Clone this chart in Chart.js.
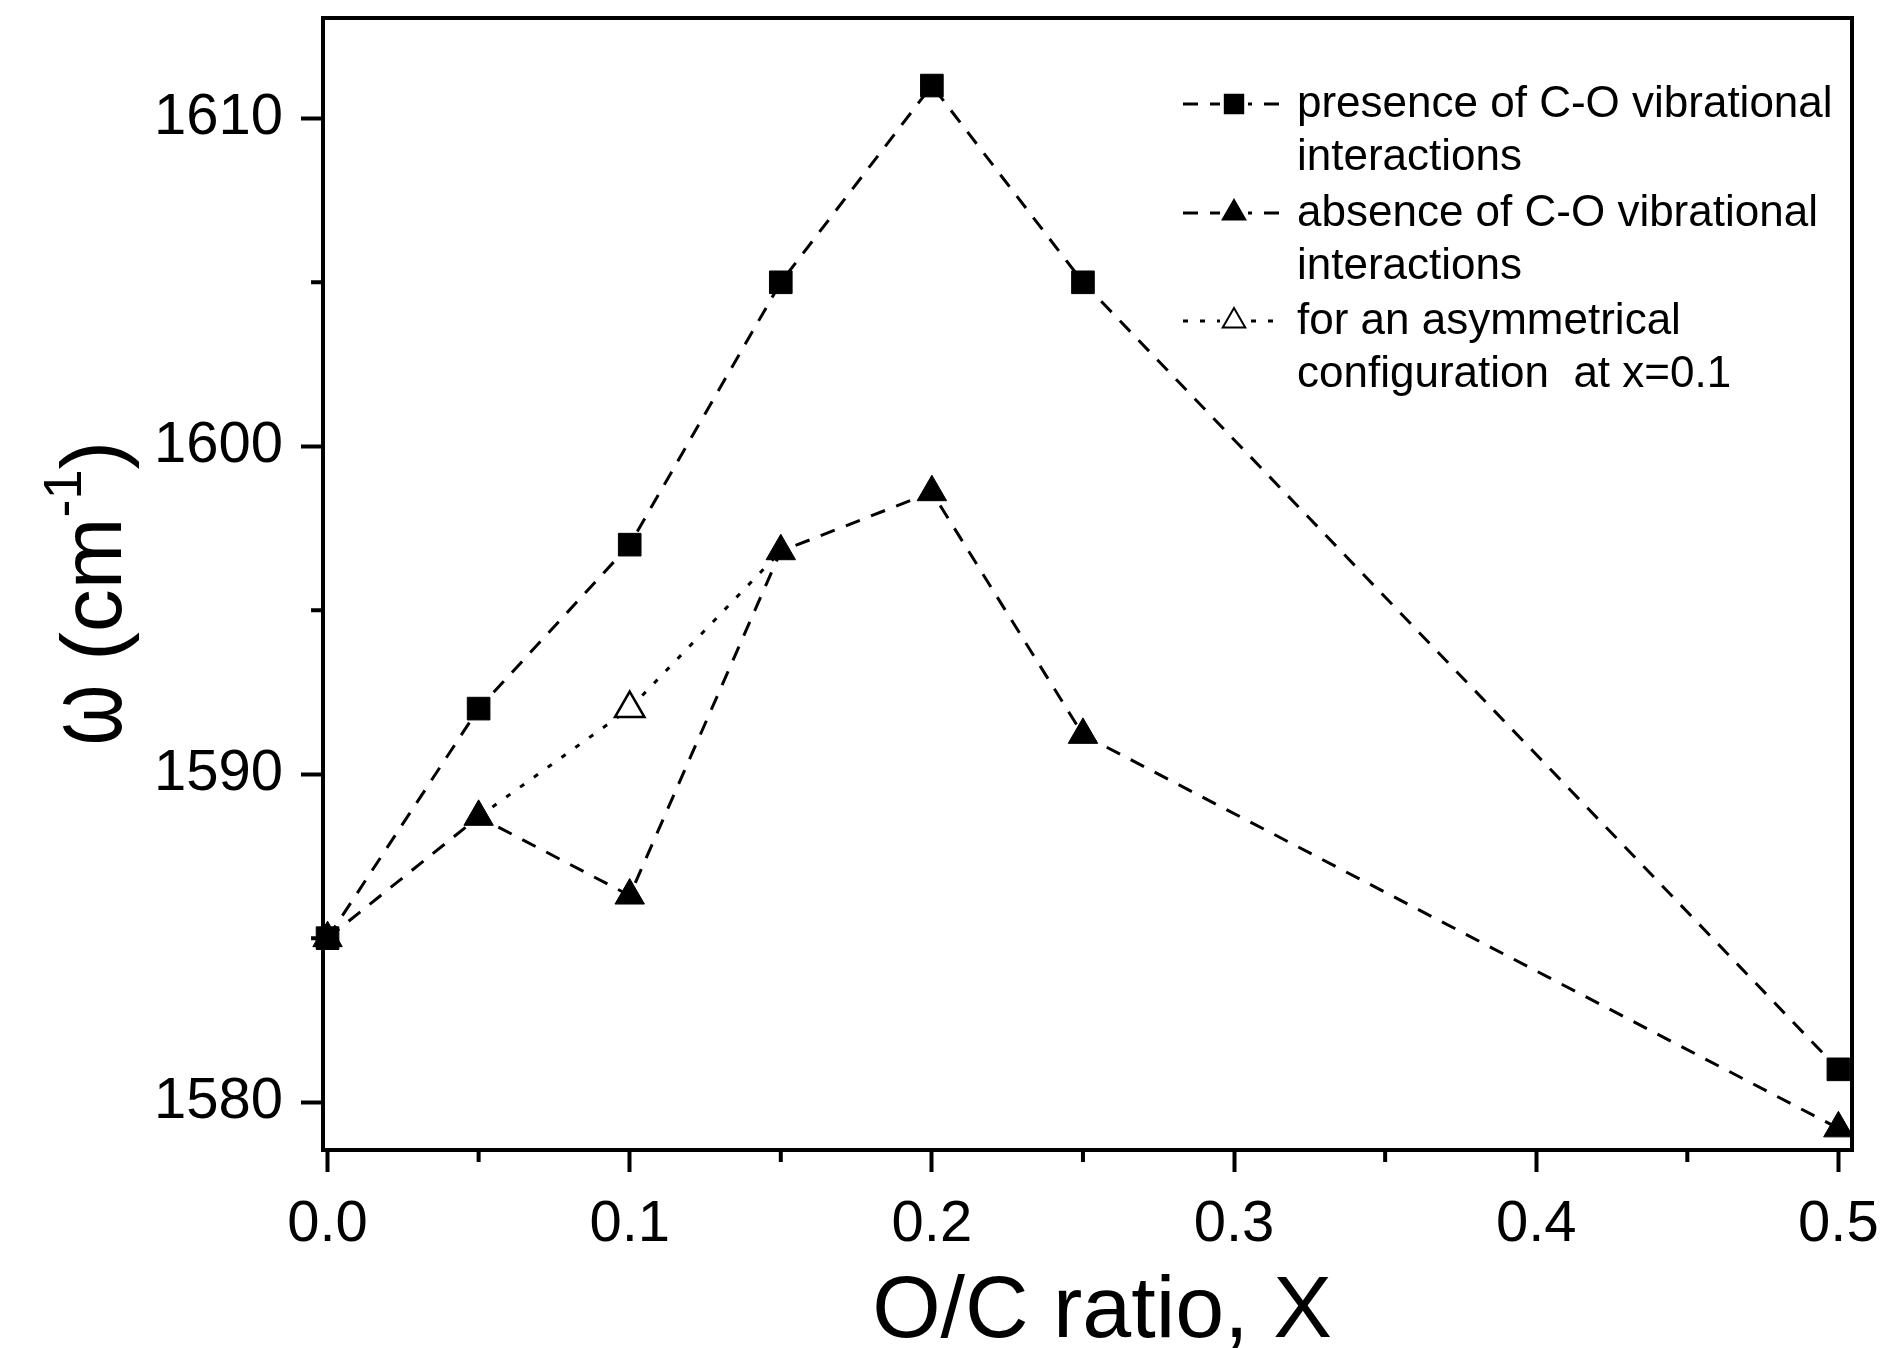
<!DOCTYPE html>
<html>
<head>
<meta charset="utf-8">
<script src="https://cdn.jsdelivr.net/npm/chart.js@4.4.1/dist/chart.umd.min.js"></script>
<style>
  html, body { margin: 0; padding: 0; background: #fff; }
</style>
</head>
<body>
<canvas id="chart" width="1888" height="1348"></canvas>
<script>
// O/C ratio values and G-band positions (cm-1)
const xValues = [0, 0.05, 0.1, 0.15, 0.2, 0.25, 0.5];
const presenceValues = [1585, 1592, 1597, 1605, 1611, 1605, 1581];
const absenceValues = [1585, 1588.7, 1586.3, 1596.8, 1598.6, 1591.2, 1579.2];
const asymX = [0.05, 0.1, 0.15];
const asymValues = [1588.7, 1592.0, 1596.8];

const xTicks = [0, 0.1, 0.2, 0.3, 0.4, 0.5];
const xMinorTicks = [0.05, 0.15, 0.25, 0.35, 0.45];
const yTicks = [1580, 1590, 1600, 1610];
const yMinorTicks = [1585, 1595, 1605];

const legendText = [
    ['presence of C-O vibrational', 'interactions'],
    ['absence of C-O vibrational', 'interactions'],
    ['for an asymmetrical', 'configuration  at x=0.1']
];
const xTitle = 'O/C ratio, X';

const FONT = '"Liberation Sans", Arial, sans-serif';

function toPoints(xs, ys) {
    return xs.map((x, i) => ({ x: x, y: ys[i] }));
}

function drawMarker(ctx, style, x, y, r, filled) {
    ctx.beginPath();
    if (style === 'rect') {
        const s = r * Math.SQRT1_2;
        ctx.rect(x - s, y - s, 2 * s, 2 * s);
    } else {
        ctx.moveTo(x, y - r);
        ctx.lineTo(x + r * 0.866, y + r / 2);
        ctx.lineTo(x - r * 0.866, y + r / 2);
        ctx.closePath();
    }
    ctx.fillStyle = filled ? '#000' : '#fff';
    ctx.fill();
    ctx.lineWidth = 2;
    ctx.strokeStyle = '#000';
    ctx.stroke();
}

// box, minor ticks, axis titles, legend
const decorations = {
    id: 'decorations',
    beforeDatasetsDraw(chart) {
        const { ctx, chartArea: a, scales: { x, y } } = chart;
        ctx.save();
        ctx.strokeStyle = '#000';
        ctx.lineWidth = 4;
        ctx.strokeRect(a.left, a.top, a.right - a.left, a.bottom - a.top);
        ctx.beginPath();
        xMinorTicks.forEach(v => {
            const px = x.getPixelForValue(v);
            ctx.moveTo(px, a.bottom);
            ctx.lineTo(px, a.bottom + 12);
        });
        yMinorTicks.forEach(v => {
            const py = y.getPixelForValue(v);
            ctx.moveTo(a.left, py);
            ctx.lineTo(a.left - 12, py);
        });
        ctx.stroke();
        ctx.restore();
    },
    afterDraw(chart) {
        const { ctx } = chart;
        ctx.save();
        ctx.fillStyle = '#000';

        // x title
        ctx.font = '88px ' + FONT;
        ctx.textAlign = 'center';
        ctx.textBaseline = 'alphabetic';
        ctx.fillText(xTitle, 1102, 1337);

        // y title: omega, (cm, superscript -1, )
        ctx.translate(121, 593);
        ctx.rotate(-Math.PI / 2);
        ctx.textAlign = 'left';
        const big = '86px ' + FONT, small = '54px ' + FONT;
        ctx.font = big;
        const w0 = ctx.measureText('\u03c9').width * 0.9;
        const w1 = ctx.measureText(' (cm').width;
        const w3 = ctx.measureText(')').width;
        ctx.font = small;
        const w2 = ctx.measureText('-1').width;
        const sx = -(w0 + w1 + w2 + w3) / 2;
        ctx.save();
        ctx.translate(sx, 0);
        ctx.scale(0.9, 1.25);
        ctx.font = big;
        ctx.fillText('\u03c9', 0, 0);
        ctx.restore();
        ctx.font = big;
        ctx.fillText(' (cm', sx + w0, 0);
        ctx.font = small;
        ctx.fillText('-1', sx + w0 + w1, -40);
        ctx.font = big;
        ctx.fillText(')', sx + w0 + w1 + w2, 0);
        ctx.restore();

        // legend
        ctx.save();
        const sampleL = 1183, sampleR = 1283, sampleC = 1234, textX = 1297;
        const baselines = [117, 226, 334];
        chart.data.datasets.forEach((ds, i) => {
            const by = baselines[i];
            const my = by - 13;
            ctx.strokeStyle = '#000';
            ctx.lineWidth = 3;
            ctx.setLineDash(ds.borderDash);
            ctx.beginPath();
            ctx.moveTo(sampleL, my);
            ctx.lineTo(sampleR, my);
            ctx.stroke();
            ctx.setLineDash([]);
            ctx.fillStyle = '#fff';
            ctx.fillRect(sampleC - 14, my - 14, 28, 28);
            drawMarker(ctx, ds.pointStyle, sampleC, my, 13, ds.pointBackgroundColor === '#000');
            ctx.fillStyle = '#000';
            ctx.font = '44px ' + FONT;
            ctx.textAlign = 'left';
            ctx.textBaseline = 'alphabetic';
            legendText[i].forEach((line, j) => {
                ctx.fillText(line, textX, by + j * 53);
            });
        });
        ctx.restore();
    }
};

const tickFont = { family: FONT, size: 58 };

new Chart(document.getElementById('chart'), {
    type: 'line',
    data: {
        datasets: [
            {
                label: legendText[0].join(' '),
                data: toPoints(xValues, presenceValues),
                borderColor: '#000',
                borderWidth: 3,
                borderDash: [15, 12],
                pointStyle: 'rect',
                pointRadius: 16,
                pointBackgroundColor: '#000',
                pointBorderColor: '#000',
                pointBorderWidth: 1,
                clip: false
            },
            {
                label: legendText[1].join(' '),
                data: toPoints(xValues, absenceValues),
                borderColor: '#000',
                borderWidth: 3,
                borderDash: [15, 12],
                pointStyle: 'triangle',
                pointRadius: 17,
                pointBackgroundColor: '#000',
                pointBorderColor: '#000',
                pointBorderWidth: 1,
                clip: false
            },
            {
                label: legendText[2].join(' '),
                data: toPoints(asymX, asymValues),
                borderColor: '#000',
                borderWidth: 3,
                borderDash: [5, 12],
                pointStyle: 'triangle',
                pointRadius: [0, 17, 0],
                pointBackgroundColor: '#fff',
                pointBorderColor: '#000',
                pointBorderWidth: 2.5,
                clip: false
            }
        ]
    },
    options: {
        responsive: false,
        animation: false,
        events: [],
        devicePixelRatio: 1,
        layout: { padding: { top: 10, right: 36, left: 0, bottom: 0 } },
        plugins: {
            legend: { display: false },
            tooltip: { enabled: false }
        },
        scales: {
            x: {
                type: 'linear',
                min: -0.0015,
                max: 0.5045,
                afterBuildTicks: s => { s.ticks = xTicks.map(v => ({ value: v })); },
                afterFit: s => {
                    s.height = 198;
                    s.paddingLeft = 0;
                    s.paddingRight = 0;
                },
                ticks: {
                    font: tickFont,
                    color: '#000',
                    padding: 18,
                    maxRotation: 0,
                    autoSkip: false,
                    callback: v => Number(v).toFixed(1)
                },
                grid: {
                    drawOnChartArea: false,
                    drawTicks: true,
                    tickLength: 22,
                    tickWidth: 4,
                    tickColor: '#000'
                },
                border: { display: false }
            },
            y: {
                type: 'linear',
                min: 1578.54,
                max: 1613.06,
                afterBuildTicks: s => { s.ticks = yTicks.map(v => ({ value: v })); },
                afterFit: s => {
                    s.width = 323;
                    s.paddingTop = 0;
                    s.paddingBottom = 0;
                },
                ticks: {
                    font: tickFont,
                    color: '#000',
                    padding: 18,
                    callback: v => String(v)
                },
                grid: {
                    drawOnChartArea: false,
                    drawTicks: true,
                    tickLength: 22,
                    tickWidth: 4,
                    tickColor: '#000'
                },
                border: { display: false }
            }
        }
    },
    plugins: [decorations]
});
</script>
</body>
</html>
